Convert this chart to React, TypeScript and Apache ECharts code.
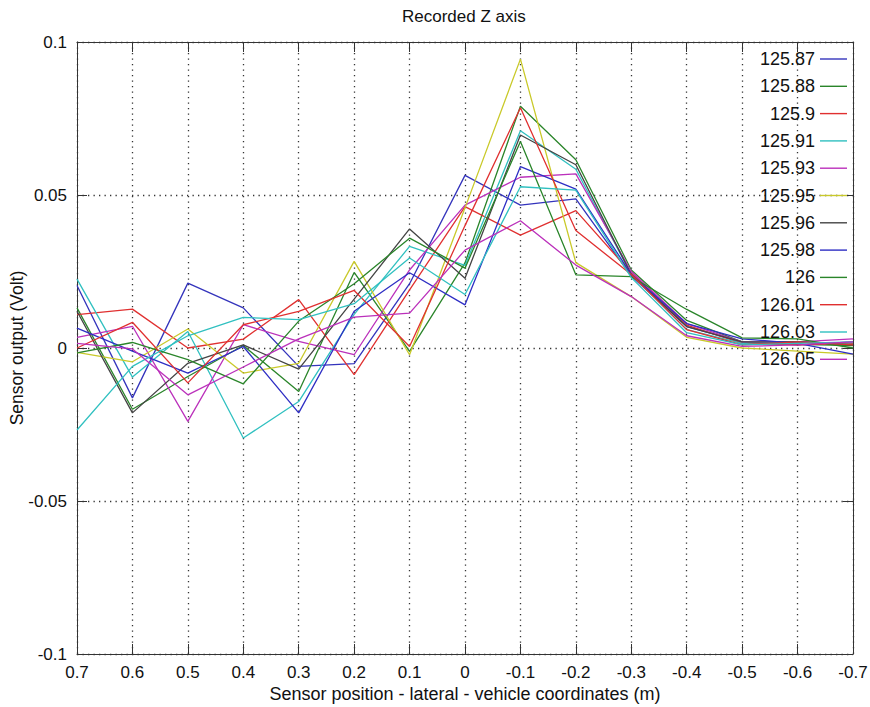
import React, { useEffect, useRef } from "react";
import * as echarts from "echarts";

// Lateral sensor positions (m), vehicle coordinates
const positions = [0.7, 0.6, 0.5, 0.4, 0.3, 0.2, 0.1, 0, -0.1, -0.2, -0.3, -0.4, -0.5, -0.6, -0.7];

// Recorded run labels
const runLabels = ["125.87", "125.88", "125.9", "125.91", "125.93", "125.95", "125.96", "125.98", "126", "126.01", "126.03", "126.05"];

// Sensor output (Volt) per run, one value per position
const run12587 = [0.0204, -0.0163, 0.0212, 0.0131, -0.006, -0.0051, 0.021, 0.0564, 0.0467, 0.0487, 0.0235, 0.007, 0.002, 0.001, 0.002];
const run12588 = [0.0131, -0.02, -0.0093, 0.0008, -0.0142, 0.0247, -0.0011, 0.0278, 0.079, 0.0615, 0.0255, 0.009, 0.002, 0.0012, 0.0008];
const run1259 = [0.0109, 0.0127, 0.0, 0.0029, 0.0158, -0.0087, 0.019, 0.0462, 0.0369, 0.0449, 0.0245, 0.0075, 0.0015, 0.001, 0.0015];
const run12591 = [0.0225, -0.0095, 0.0054, -0.0294, -0.0175, 0.011, 0.0332, 0.027, 0.071, 0.0584, 0.024, 0.006, 0.0015, 0.002, 0.0012];
const run12593 = [0.0035, 0.0071, -0.024, 0.0076, 0.0022, -0.0022, 0.0255, 0.0467, 0.0558, 0.0569, 0.025, 0.008, 0.002, 0.002, 0.003];
const run12595 = [-0.0014, -0.0045, 0.0062, -0.0082, -0.005, 0.0283, -0.0022, 0.0458, 0.0944, 0.0279, 0.0168, 0.0035, 0.0, -0.001, -0.002];
const run12596 = [0.012, -0.0212, -0.005, 0.001, -0.0069, 0.016, 0.0389, 0.0228, 0.0696, 0.0599, 0.024, 0.007, 0.002, 0.002, 0.001];
const run12598 = [0.0065, -0.001, -0.0082, 0.0005, -0.0212, 0.012, 0.0246, 0.0141, 0.0593, 0.0519, 0.024, 0.008, 0.003, 0.0015, -0.002];
const run126 = [-0.0016, 0.0018, -0.0038, -0.0117, 0.0088, 0.021, 0.0359, 0.0261, 0.0675, 0.0239, 0.0233, 0.0126, 0.0033, 0.003, 0.0];
const run12601 = [0.0, 0.0084, -0.0114, 0.0076, 0.012, 0.0188, 0.0005, 0.04, 0.0785, 0.0384, 0.024, 0.006, 0.001, 0.002, 0.001];
const run12603 = [-0.0268, -0.006, 0.004, 0.01, 0.0093, 0.0145, 0.0294, 0.0175, 0.0527, 0.0516, 0.023, 0.005, 0.001, 0.0015, 0.002];
const run12605 = [0.0015, -0.0003, -0.0153, -0.0062, 0.003, 0.0101, 0.0114, 0.032, 0.0416, 0.0271, 0.0168, 0.004, 0.0005, 0.001, 0.002];

const runValues = [run12587, run12588, run1259, run12591, run12593, run12595, run12596, run12598, run126, run12601, run12603, run12605];

// Octave-style colour order, cycling after seven
const lineColors = ["#3434bc", "#2a852a", "#e03030", "#30c0c0", "#bb30bb", "#c9c92a", "#444444", "#2e2ec4", "#2a852a", "#e03030", "#30c0c0", "#bb30bb"];

const FONT = "Liberation Sans, Arial, sans-serif";
const GRID_DASH = [1.3, 4.2];
// Plain horizontal stroke used as the legend key
const LEGEND_KEY = "path://M0,0 L27,0 L27,1.4 L0,1.4 Z";

const fmt = (v: number, digits: number) => (Math.abs(v) < 1e-9 ? "0" : String(+v.toFixed(digits)));

export default function App() {
  const ref = useRef<HTMLDivElement>(null);

  useEffect(() => {
    if (!ref.current) return;
    const chart = echarts.init(ref.current, undefined, { renderer: "svg" });

    const frameLine = { show: true, onZero: false, lineStyle: { color: "#333", width: 1 } };
    const innerTick = { show: true, inside: true, length: 10, lineStyle: { color: "#333", width: 1 } };

    chart.setOption({
      animation: false,
      backgroundColor: "#fff",
      title: {
        text: "Recorded Z axis",
        left: 402,
        top: 8,
        padding: 0,
        textStyle: { fontFamily: FONT, fontSize: 17, fontWeight: "normal", color: "#111" },
      },
      grid: { left: 77, right: 17, top: 42, bottom: 53, containLabel: false, outerBoundsMode: "none" },
      legend: {
        orient: "vertical",
        right: 23,
        top: 50,
        padding: 0,
        align: "right",
        icon: LEGEND_KEY,
        itemWidth: 27,
        itemHeight: 14,
        itemGap: 9.3,
        data: runLabels,
        textStyle: { fontFamily: FONT, fontSize: 18, color: "#111" },
      },
      xAxis: [
        {
          type: "value",
          min: -0.7,
          max: 0.7,
          interval: 0.1,
          inverse: true,
          position: "bottom",
          name: "Sensor position - lateral - vehicle coordinates (m)",
          nameLocation: "middle",
          nameGap: 31,
          nameMoveOverlap: false,
          nameTextStyle: { fontFamily: FONT, fontSize: 18, color: "#111" },
          axisLine: frameLine,
          axisTick: innerTick,
          axisLabel: { margin: 10, fontFamily: FONT, fontSize: 17, color: "#111", formatter: (v: number) => fmt(v, 1) },
          splitLine: { show: true, lineStyle: { color: "#333", width: 1.3, type: GRID_DASH } },
        },
        {
          type: "value",
          min: -0.7,
          max: 0.7,
          interval: 0.1,
          inverse: true,
          position: "top",
          axisLine: frameLine,
          axisTick: innerTick,
          axisLabel: { show: false },
          splitLine: { show: false },
        },
      ],
      yAxis: [
        {
          type: "value",
          min: -0.1,
          max: 0.1,
          interval: 0.05,
          position: "left",
          name: "Sensor output (Volt)",
          nameLocation: "middle",
          nameGap: 51,
          nameMoveOverlap: false,
          nameTextStyle: { fontFamily: FONT, fontSize: 17.5, color: "#111" },
          axisLine: frameLine,
          axisTick: innerTick,
          axisLabel: { margin: 10, fontFamily: FONT, fontSize: 17, color: "#111", formatter: (v: number) => fmt(v, 2) },
          splitLine: { show: true, lineStyle: { color: "#333", width: 1.3, type: GRID_DASH } },
        },
        {
          type: "value",
          min: -0.1,
          max: 0.1,
          interval: 0.05,
          position: "right",
          axisLine: frameLine,
          axisTick: innerTick,
          axisLabel: { show: false },
          splitLine: { show: false },
        },
      ],
      series: runLabels.map((label, i) => ({
        name: label,
        type: "line",
        xAxisIndex: 0,
        yAxisIndex: 0,
        symbol: "none",
        color: lineColors[i],
        lineStyle: { color: lineColors[i], width: 1.3 },
        data: positions.map((x, j) => [x, runValues[i][j]]),
      })),
    });

    return () => chart.dispose();
  }, []);

  return <div ref={ref} style={{ position: "fixed", left: 0, top: 0, width: 870, height: 707 }} />;
}
